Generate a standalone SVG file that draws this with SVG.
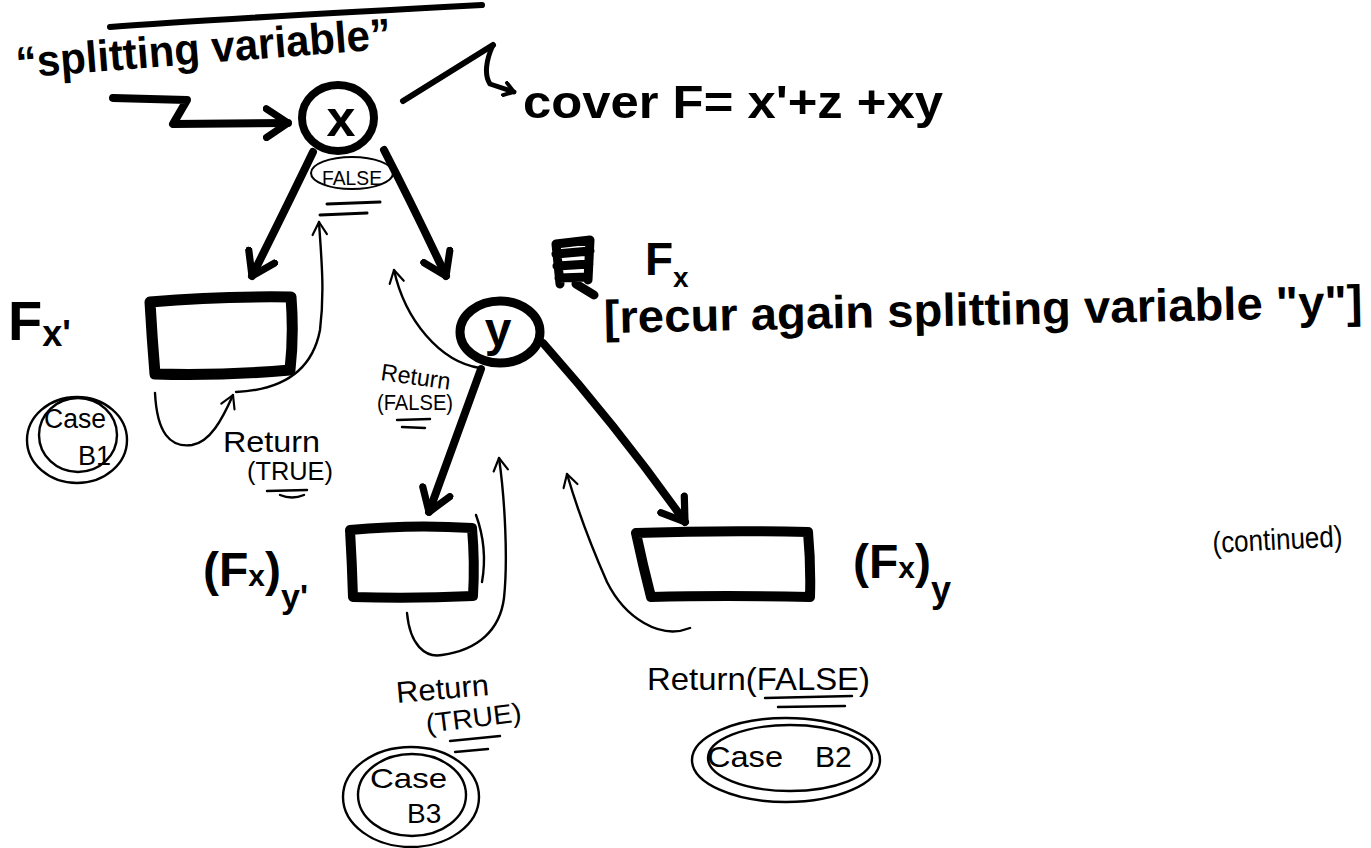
<svg xmlns="http://www.w3.org/2000/svg" width="1371" height="848" viewBox="0 0 1371 848">
  <style>
    .ink{fill:none;stroke:#000;stroke-linecap:round;stroke-linejoin:round}
    .thick{stroke-width:8}
    .box{stroke-width:11}
    .thin{stroke-width:2.4}
    .mk{font-family:"Liberation Sans","DejaVu Sans",sans-serif;font-weight:700;fill:#000}
    .pen{font-family:"Liberation Sans","DejaVu Sans",sans-serif;font-weight:400;fill:#000}
  </style>
  <defs>
    <marker id="ah-thick" viewBox="0 0 10 10" refX="7" refY="5" markerWidth="4.5" markerHeight="4.5" markerUnits="strokeWidth" orient="auto">
      <path d="M1,1 L7,5 L1,9" fill="none" stroke="#000" stroke-width="2" stroke-linecap="round" stroke-linejoin="round"/>
    </marker>
    <marker id="ah-thin" viewBox="0 0 10 10" refX="8" refY="5" markerWidth="18" markerHeight="18" markerUnits="userSpaceOnUse" orient="auto">
      <path d="M1,1 L8,5 L1,9" fill="none" stroke="#000" stroke-width="1.2" stroke-linecap="round" stroke-linejoin="round"/>
    </marker>
    <marker id="ah-hook" viewBox="0 0 10 10" refX="8" refY="5" markerWidth="16" markerHeight="16" markerUnits="userSpaceOnUse" orient="auto">
      <path d="M2,1 L8,5 L2,9" fill="none" stroke="#000" stroke-width="2.4" stroke-linecap="round" stroke-linejoin="round"/>
    </marker>
  </defs>

  <rect width="1371" height="848" fill="#fff"/>

  <!-- heading note -->
  <g id="note-splitting">
    <path class="ink" stroke-width="6" d="M110,27 C200,20 350,12 482,5"/>
    <text class="mk" x="17" y="78" font-size="44" textLength="376" lengthAdjust="spacingAndGlyphs" transform="rotate(-4.5 17 78)">“splitting variable”</text>
  </g>

  <g id="note-cover">
    <text class="mk" x="523" y="118" font-size="46" textLength="420" lengthAdjust="spacingAndGlyphs">cover F= x'+z +xy</text>
  </g>

  <g id="note-recur">
    <path class="ink" stroke-width="9" d="M556,244 L590,240 M556,254 L590,251 M557,266 L589,264 M559,278 L588,277 M556,244 L560,284 M590,240 L588,280 M576,284 L594,295"/>
    <text class="mk" x="645" y="275" font-size="46">F<tspan font-size="28" dy="12">x</tspan></text>
    <text class="mk" x="604" y="333" font-size="46" textLength="759" lengthAdjust="spacingAndGlyphs" transform="rotate(-1.2 604 333)">[recur again splitting variable "y"]</text>
  </g>

  <!-- tree nodes -->
  <g id="node-x">
    <ellipse class="ink" stroke-width="8" cx="338" cy="118" rx="36" ry="33"/>
    <text class="mk" x="341" y="136" font-size="52" text-anchor="middle">x</text>
    <ellipse class="ink" stroke-width="2" cx="352" cy="173" rx="41" ry="16"/>
    <text class="pen" x="322" y="185" font-size="20" textLength="60" lengthAdjust="spacingAndGlyphs">FALSE</text>
    <path class="ink" stroke-width="3" d="M327,204 L380,202 M320,215 L367,213"/>
  </g>

  <g id="node-fx1">
    <path class="ink box" d="M150,302 Q220,296 291,297 Q294,335 290,370 Q222,376 155,374 Q152,338 150,302 Z"/>
    <text class="mk" x="8" y="340" font-size="56">F<tspan font-size="36" dy="6">x'</tspan></text>
  </g>

  <g id="node-y">
    <ellipse class="ink" stroke-width="9" cx="500" cy="332" rx="40" ry="31"/>
    <text class="mk" x="498" y="346" font-size="48" text-anchor="middle">y</text>
  </g>

  <g id="node-fxy1">
    <path class="ink" stroke-width="10" d="M350,530 Q412,524 472,528 Q475,562 473,596 Q412,599 353,597 Q352,563 350,530 Z"/>
    <text class="mk" x="203" y="586" font-size="48">(F<tspan font-size="30">x</tspan>)<tspan font-size="34" dy="22">y'</tspan></text>
  </g>

  <g id="node-fxy">
    <path class="ink" stroke-width="10" d="M636,533 Q722,530 808,532 Q811,565 810,597 Q724,595 651,597 Q643,566 636,533 Z"/>
    <text class="mk" x="853" y="578" font-size="48">(F<tspan font-size="30">x</tspan>)<tspan font-size="36" dy="24">y</tspan></text>
  </g>

  <!-- outcome tags -->
  <g id="case-b1">
    <ellipse class="ink" stroke-width="2.4" cx="77" cy="440" rx="50" ry="43"/>
    <ellipse class="ink" stroke-width="2.4" cx="78" cy="435" rx="39" ry="37"/>
    <text class="pen" x="44" y="428" font-size="27" textLength="62" lengthAdjust="spacingAndGlyphs">Case</text>
    <text class="pen" x="78" y="465" font-size="27">B1</text>
  </g>

  <g id="case-b3">
    <ellipse class="ink" stroke-width="2.4" cx="411" cy="797" rx="68" ry="50"/>
    <ellipse class="ink" stroke-width="2.4" cx="412" cy="795" rx="54" ry="41"/>
    <text class="pen" x="370" y="788" font-size="28" textLength="77" lengthAdjust="spacingAndGlyphs">Case</text>
    <text class="pen" x="407" y="823" font-size="28">B3</text>
  </g>

  <g id="case-b2">
    <ellipse class="ink" stroke-width="2.4" cx="786" cy="760" rx="94" ry="42"/>
    <ellipse class="ink" stroke-width="2.4" cx="790" cy="758" rx="82" ry="33"/>
    <text class="pen" x="707" y="767" font-size="30" textLength="76" lengthAdjust="spacingAndGlyphs">Case</text>
    <text class="pen" x="815" y="767" font-size="30">B2</text>
  </g>

  <!-- return labels -->
  <g id="labels">
    <text class="pen" x="223" y="452" font-size="29" textLength="97" lengthAdjust="spacingAndGlyphs">Return</text>
    <text class="pen" x="247" y="480" font-size="25" textLength="86" lengthAdjust="spacingAndGlyphs">(TRUE)</text>
    <path class="ink" stroke-width="2.4" d="M267,491 L307,490 M280,495 Q292,500 304,495"/>

    <text class="pen" x="380" y="380" font-size="24" textLength="70" lengthAdjust="spacingAndGlyphs" transform="rotate(8 380 380)">Return</text>
    <text class="pen" x="377" y="410" font-size="22" textLength="76" lengthAdjust="spacingAndGlyphs">(FALSE)</text>
    <path class="ink" stroke-width="2.4" d="M397,420 L430,419 M402,427 L425,428"/>

    <text class="pen" x="397" y="703" font-size="30" textLength="93" lengthAdjust="spacingAndGlyphs" transform="rotate(-5 397 703)">Return</text>
    <text class="pen" x="427" y="733" font-size="27" textLength="96" lengthAdjust="spacingAndGlyphs" transform="rotate(-7 427 733)">(TRUE)</text>
    <path class="ink" stroke-width="2.4" d="M450,741 L500,736 M455,752 L488,749"/>

    <text class="pen" x="647" y="690" font-size="32" textLength="223" lengthAdjust="spacingAndGlyphs">Return(FALSE)</text>
    <path class="ink" stroke-width="2.4" d="M765,698 L852,696 M778,707 L845,706"/>

    <text class="pen" x="1213" y="553" font-size="30" fill="#333" textLength="130" lengthAdjust="spacingAndGlyphs" transform="rotate(-3 1213 553)">(continued)</text>
  </g>

  <!-- connectors -->
  <g id="connectors">
    <path class="ink thick" marker-end="url(#ah-thick)" d="M113,98 L187,100 L173,124 L288,123"/>
    <path class="ink" stroke-width="6" d="M403,101 L493,45"/>
    <path class="ink" stroke-width="5" marker-end="url(#ah-hook)" d="M493,45 C486,60 484,75 490,84 L514,92"/>
    <path class="ink thick" marker-end="url(#ah-thick)" d="M313,152 Q285,210 252,276"/>
    <path class="ink thick" marker-end="url(#ah-thick)" d="M384,150 Q415,210 446,276"/>
    <path class="ink thick" marker-end="url(#ah-thick)" d="M481,369 Q455,440 429,512"/>
    <path class="ink thick" marker-end="url(#ah-thick)" d="M543,343 Q620,430 685,522"/>

    <path class="ink thin" marker-end="url(#ah-thin)" d="M155,393 C157,433 170,448 192,445 C210,442 222,420 233,395"/>
    <path class="ink thin" marker-end="url(#ah-thin)" d="M236,392 C280,390 312,372 320,330 C325,290 321,255 319,222"/>
    <path class="ink thin" marker-end="url(#ah-thin)" d="M480,368 C440,362 405,320 394,270"/>
    <path class="ink thin" d="M476,515 Q488,548 482,582"/>
    <path class="ink thin" marker-end="url(#ah-thin)" d="M407,613 C410,645 425,658 442,655 C478,650 500,630 504,598 C508,560 505,500 499,458"/>
    <path class="ink thin" marker-end="url(#ah-thin)" d="M690,628 C660,640 625,618 607,582 C592,548 576,505 567,474"/>
  </g>
</svg>
